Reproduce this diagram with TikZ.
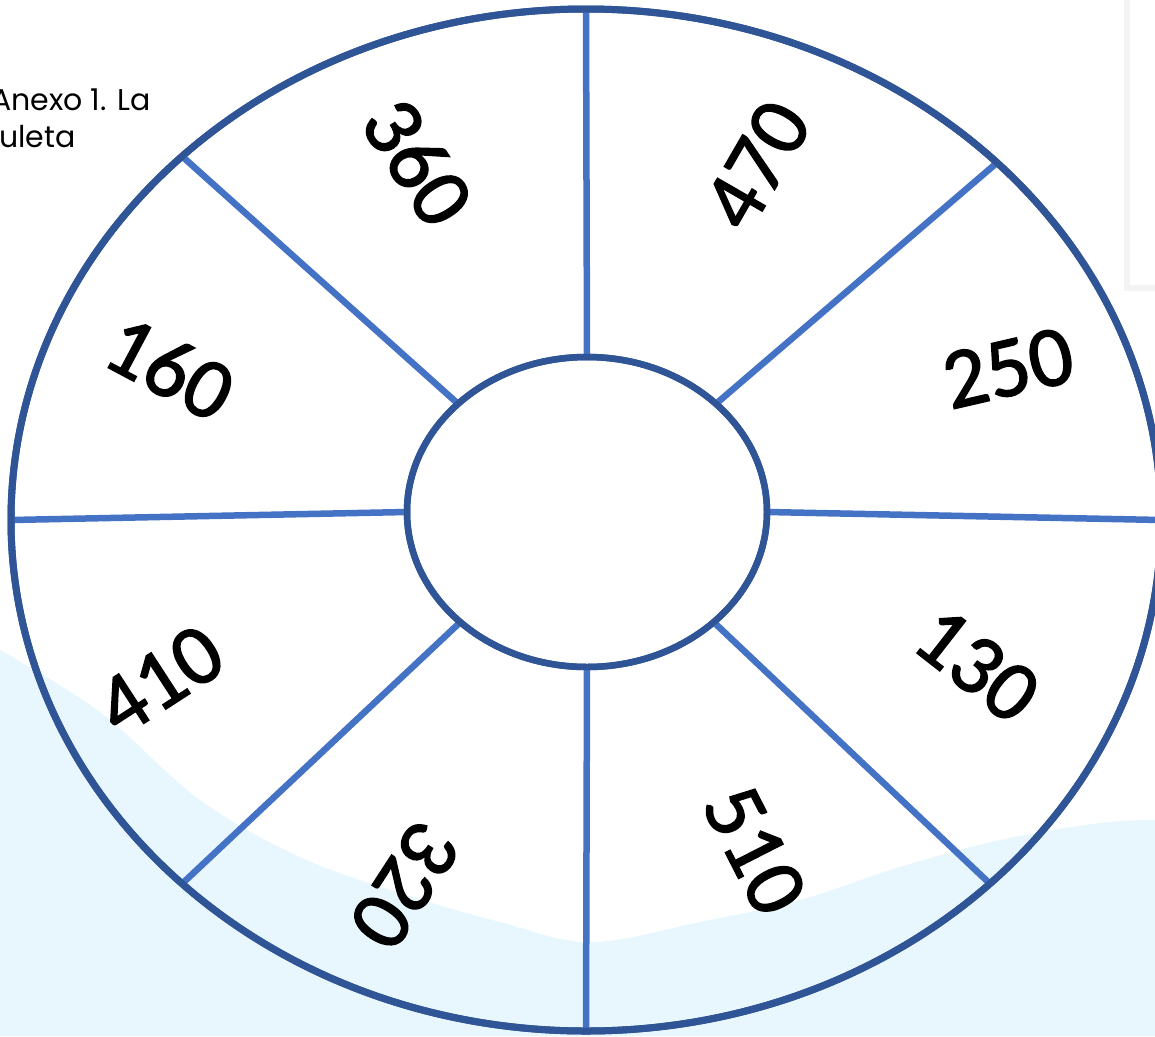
\documentclass[tikz,border=0pt]{standalone}
\usepackage{fontspec}
\setmainfont{Carlito}
\newfontfamily\headfont{Poppins}
\newfontfamily\numfont{Carlito}[FakeBold=1.6]
\usetikzlibrary{shapes.geometric}
\definecolor{rimblue}{HTML}{2F5597}
\definecolor{spokeblue}{HTML}{4472C4}
\definecolor{wavecol}{HTML}{E8F7FD}
\definecolor{boxgrey}{HTML}{F3F3F3}
\begin{document}
\begin{tikzpicture}[x=1pt,y=-1pt,
  rim/.style={ellipse, draw=rimblue, line width=7pt, inner sep=0pt, outer sep=0pt},
  spoke/.style={draw=spokeblue, line width=6.5pt},
  num/.style={font=\numfont\fontsize{86}{100}\selectfont, inner sep=0pt},
  head/.style={font=\headfont\fontsize{30}{37}\selectfont, anchor=base west, inner sep=0pt}]
\useasboundingbox (0,0) rectangle (1155,1036);
% background wave
\fill[wavecol] (0,1036) -- plot[smooth, tension=0.6] coordinates {(0,650) (100,712) (200,800) (300,857) (400,893) (500,922) (590,942) (700,922) (800,900) (900,867) (1000,840) (1100,823) (1155,820)} -- (1155,1036) -- cycle;
% faint box at top right
\draw[boxgrey, line width=6pt] (1127,-5) -- (1127,288) -- (1165,288);
% heading
\node[head] (h1) at (-9,110) {Anexo 1. La};
\node[head] (h2) at (-1,147) {uleta};
% wheel
\node[rim, minimum width=1150pt, minimum height=1022pt] (outer) at (586,520) {};
\node[rim, line width=6.5pt, fill=white, minimum width=360pt, minimum height=310pt] (inner) at (587,512) {};
\draw[spoke] (inner.90) -- (outer.90);
\draw[spoke] (inner.270) -- (outer.270);
\draw[spoke] (inner.180) -- (outer.180);
\draw[spoke] (inner.0) -- (outer.0);
\draw[spoke] (inner.140) -- (outer.138.5);
\draw[spoke] (inner.40) -- (outer.41.5);
\draw[spoke] (inner.221) -- (outer.222);
\draw[spoke] (inner.319) -- (outer.318);
% redraw rims on top
\node[rim, minimum width=1150pt, minimum height=1022pt] (outerb) at (586,520) {};
\node[rim, line width=6.5pt, minimum width=360pt, minimum height=310pt] (innerb) at (587,512) {};
% numbers
\node[num, rotate=-57] (n360) at (418,162) {360};
\node[num, rotate=60] (n470) at (757,165) {470};
\node[num, rotate=13] (n250) at (1008,368) {250};
\node[num, rotate=-38] (n130) at (977,665) {130};
\node[num, rotate=-63] (n510) at (755,850) {510};
\node[num, rotate=-123] (n320) at (405,885) {320};
\node[num, rotate=33] (n410) at (160,680) {410};
\node[num, rotate=-28] (n160) at (170,368) {160};
\end{tikzpicture}
\end{document}
